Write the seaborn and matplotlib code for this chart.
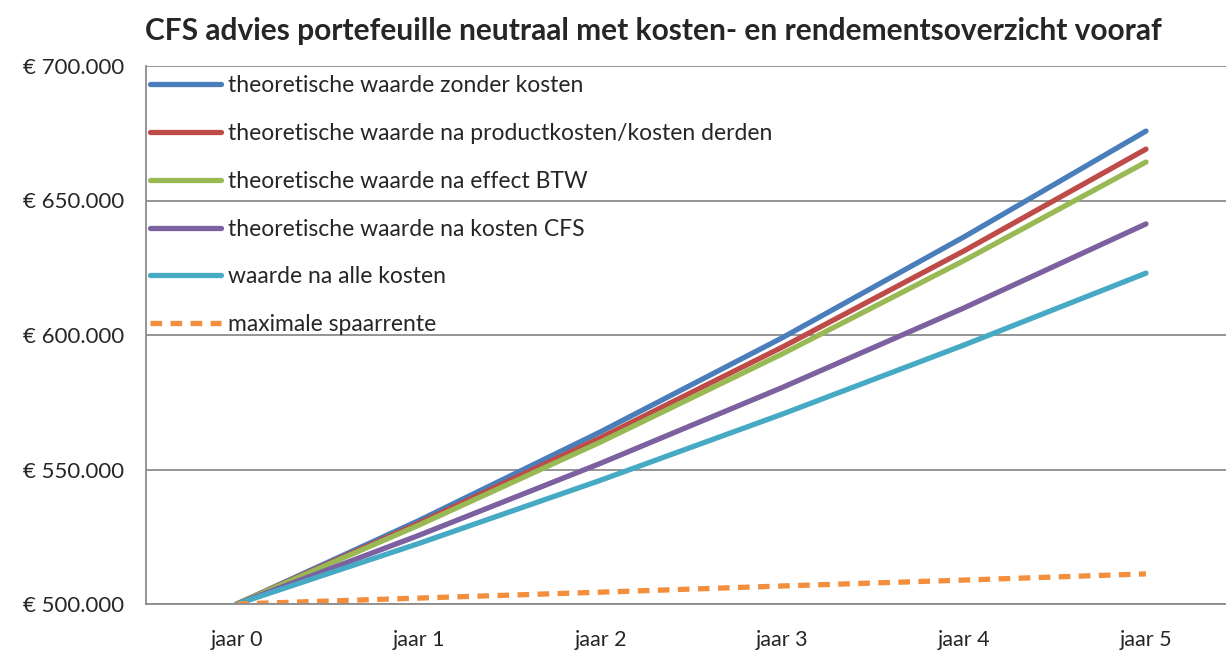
import pandas as pd
import seaborn as sns
import matplotlib.pyplot as plt
from matplotlib.ticker import FuncFormatter, FixedLocator

# Data
jaren = ['jaar 0', 'jaar 1', 'jaar 2', 'jaar 3', 'jaar 4', 'jaar 5']
zonder_kosten = [500000, 531000, 564000, 599000, 636500, 675800]
na_productkosten = [500000, 530000, 561800, 595500, 631300, 669100]
na_btw = [500000, 529300, 560200, 593000, 627700, 664300]
na_kosten_cfs = [500000, 525500, 552300, 580500, 610100, 641300]
na_alle_kosten = [500000, 522500, 546000, 570600, 596300, 623000]
spaarrente = [500000, 502200, 504400, 506700, 508900, 511200]

series = {
    'theoretische waarde zonder kosten': zonder_kosten,
    'theoretische waarde na productkosten/kosten derden': na_productkosten,
    'theoretische waarde na effect BTW': na_btw,
    'theoretische waarde na kosten CFS': na_kosten_cfs,
    'waarde na alle kosten': na_alle_kosten,
    'maximale spaarrente': spaarrente,
}
colors = ['#4A7EBB', '#BE4B48', '#98B954', '#7D60A0', '#46AAC5', '#F38E3C']

rows = []
for name, vals in series.items():
    for i, v in enumerate(vals):
        rows.append({'jaar': i, 'waarde': v, 'reeks': name})
df = pd.DataFrame(rows)

sns.set_style('white')
plt.rcParams['font.family'] = ['Lato', 'DejaVu Sans']

fig = plt.figure(figsize=(12.26, 6.5), dpi=100)
ax = fig.add_axes([146 / 1226, 1 - 604 / 650, 1 - 146 / 1226, (604 - 66) / 650])

dashes = {name: '' for name in series}
dashes['maximale spaarrente'] = (2.2, 1.6)
sns.lineplot(data=df, x='jaar', y='waarde', hue='reeks', style='reeks',
             palette=colors, dashes=dashes, linewidth=3.8, ax=ax,
             legend=False)
for line in ax.lines:
    line.set_solid_capstyle('round')
    line.set_dash_capstyle('butt')

ax.set_xlim(-0.5, 5.44)
ax.set_ylim(500000, 700000)
ax.set_yticks([500000, 550000, 600000, 650000, 700000])
ax.yaxis.set_major_formatter(FuncFormatter(lambda v, p: '€ ' + f'{int(v):,}'.replace(',', '.')))
ax.set_xticks(range(len(jaren)))
ax.set_xticklabels(jaren)
ax.xaxis.set_minor_locator(FixedLocator([i + 0.5 for i in range(-1, 5)]))
ax.tick_params(axis='x', which='major', length=0, pad=19, labelsize=15.5)
ax.tick_params(axis='x', which='minor', length=8, color='#8c8c8c', width=1.2, direction='out')
ax.tick_params(axis='y', length=7, color='#8c8c8c', width=1.2, labelsize=16, pad=9, direction='out')
ax.grid(axis='y', color='#8c8c8c', linewidth=1.3)
ax.set_axisbelow(True)
for s in ['top', 'right']:
    ax.spines[s].set_visible(False)
for s in ['left', 'bottom']:
    ax.spines[s].set_color('#8c8c8c')
    ax.spines[s].set_linewidth(1.3)
ax.set_xlabel('')
ax.set_ylabel('')

ax.legend(ax.lines, list(series.keys()), loc='upper left', frameon=False,
          fontsize=16.5, handlelength=3.1, handletextpad=0.3, labelspacing=1.17,
          bbox_to_anchor=(-0.005, 1.0), borderaxespad=0.0)

fig.text(0.533, 0.953, 'CFS advies portefeuille neutraal met kosten- en rendementsoverzicht vooraf',
         ha='center', va='center', fontsize=21.5, fontweight='bold')

fig.savefig('out.png', dpi=100)
